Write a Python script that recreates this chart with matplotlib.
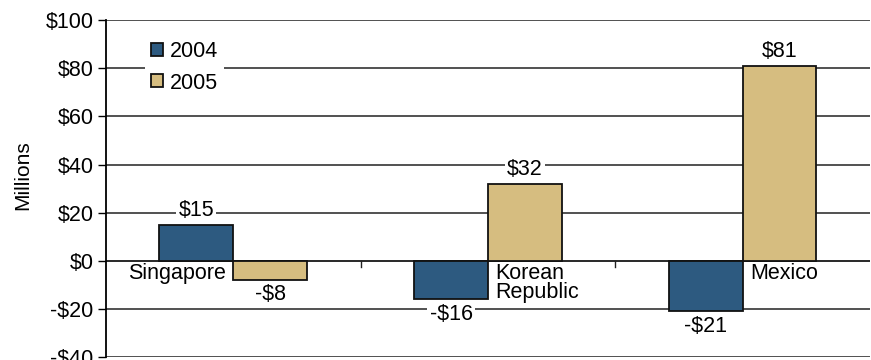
import numpy as np
import matplotlib.pyplot as plt

plt.rcParams['font.family'] = ['Liberation Sans', 'DejaVu Sans']

countries = ["Singapore", "Korean\nRepublic", "Mexico"]
vals_2004 = [15, -16, -21]
vals_2005 = [-8, 32, 81]
yticks = [-40, -20, 0, 20, 40, 60, 80, 100]
ytick_labels = ["-$40", "-$20", "$0", "$20", "$40", "$60", "$80", "$100"]

blue = "#2d5a80"
tan = "#d6bd80"
fs = 15.5

fig = plt.figure(figsize=(8.71, 3.6), dpi=100)
ax = fig.add_axes([0.1217, 0.008, 0.877, 0.936])

x = np.arange(len(countries))
w = 0.29
b1 = ax.bar(x - w / 2, vals_2004, w, color=blue, edgecolor="#111111", linewidth=1.3, label="2004", zorder=3)
b2 = ax.bar(x + w / 2, vals_2005, w, color=tan, edgecolor="#111111", linewidth=1.3, label="2005", zorder=3)

ax.set_xlim(-0.5, 2.5)
ax.set_ylim(-40, 100)
ax.set_yticks(yticks)
ax.set_yticklabels(ytick_labels, fontsize=fs)
ax.tick_params(axis="y", length=6, width=1, pad=3)
ax.yaxis.grid(True, color="#222222", linewidth=1.1, zorder=0)
ax.set_axisbelow(True)
ax.set_xticks([])

for s in ["top", "right", "bottom"]:
    ax.spines[s].set_visible(False)
ax.spines["left"].set_linewidth(1.3)

ax.axhline(0, color="#222222", linewidth=1.1, zorder=2)
# small ticks between the country groups on the zero line
for b in [0.5, 1.5]:
    ax.plot([b, b], [0, -2.5], color="#222222", linewidth=1, zorder=2)

ax.set_ylabel("Millions", fontsize=15)
ax.yaxis.set_label_coords(-0.097, 0.54)

box = dict(facecolor="white", edgecolor="none", pad=1.5)
for bars in (b1, b2):
    for r in bars:
        v = r.get_height()
        cx = r.get_x() + r.get_width() / 2
        if v >= 0:
            ax.annotate(f"${v:.0f}", (cx, v), xytext=(0, 3), textcoords="offset points",
                        ha="center", va="bottom", fontsize=fs, bbox=box, zorder=4)
        else:
            ax.annotate(f"-${abs(v):.0f}", (cx, v), xytext=(0, -3), textcoords="offset points",
                        ha="center", va="top", fontsize=fs, bbox=box, zorder=4)

# country names sit under the zero line next to the positive bar
for i, name in enumerate(countries):
    if vals_2004[i] >= 0:
        ax.text(i - 0.03, -1.0, name, ha="right", va="top", fontsize=fs,
                linespacing=0.85, zorder=4)
    else:
        ax.text(i + 0.03, -1.0, name, ha="left", va="top", fontsize=fs,
                linespacing=0.85, zorder=4)

leg = ax.legend(loc="upper left", bbox_to_anchor=(0.037, 0.99), fontsize=fs,
                frameon=True, fancybox=False, edgecolor="none", framealpha=1,
                handlelength=0.55, handleheight=0.55, handletextpad=0.3,
                labelspacing=0.5, borderpad=0.3)
for h in leg.legend_handles:
    h.set_linewidth(1.3)

fig.savefig("out.png", dpi=100)
